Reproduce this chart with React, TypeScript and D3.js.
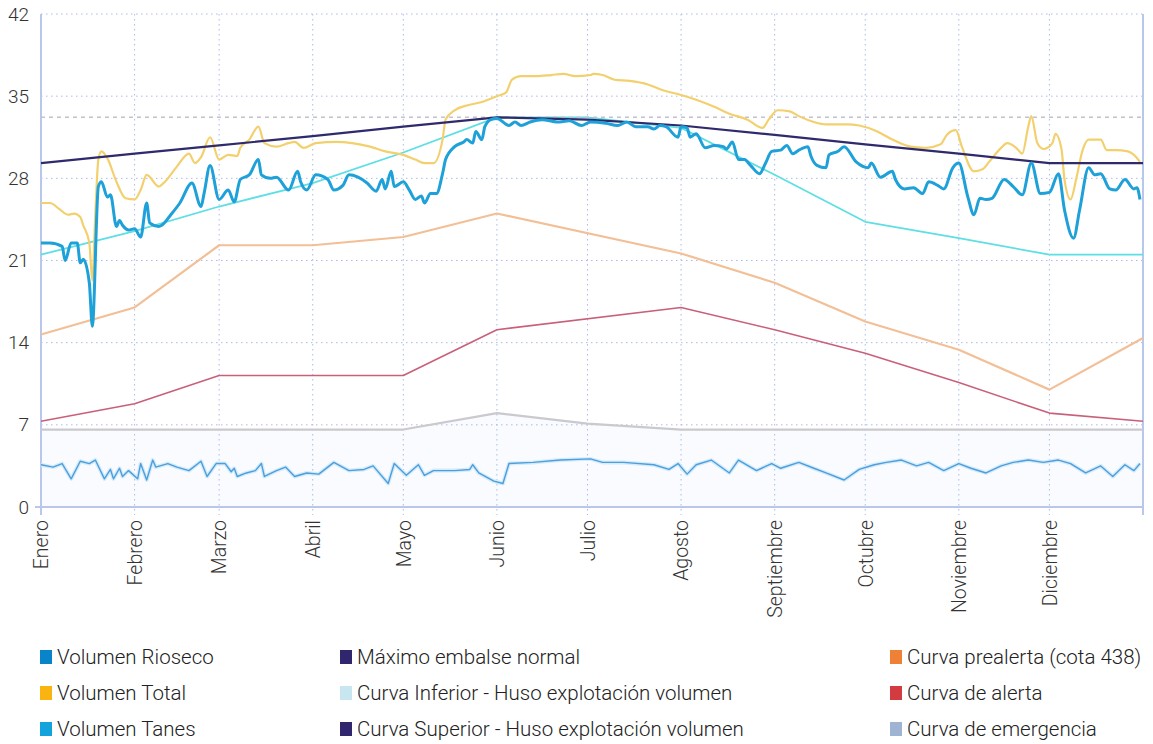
import React, { useEffect, useRef } from "react";
import * as d3 from "d3";

type Pt = [number, number]; // [día del año, hm3]

const meses = ["Enero", "Febrero", "Marzo", "Abril", "Mayo", "Junio", "Julio", "Agosto", "Septiembre", "Octubre", "Noviembre", "Diciembre"];
const yTicks = [0, 7, 14, 21, 28, 35, 42];
const nivelMaximo = 33.2;

const volumenTanes: Pt[] = [
  [0, 22.5], [3, 22.5], [7, 22.2], [8, 21.0], [10, 22.5], [12, 22.5], [13, 20.8], [14, 21.1], [16, 19.1], [17, 15.4],
  [19, 27.3], [20, 27.7], [22, 26.4], [23, 26.6], [25, 23.9], [26, 24.4], [27, 24.0], [29, 23.6], [31, 23.7], [33, 23.0],
  [35, 25.9], [36, 24.2], [39, 23.9], [40, 24.0], [43, 24.9], [46, 25.9], [50, 27.6], [53, 25.6], [54, 26.7], [56, 29.1],
  [59, 26.2], [62, 27.0], [64, 26.0], [66, 27.9], [69, 28.3], [72, 29.6], [73, 28.3], [76, 28.0], [78, 28.1], [82, 27.0],
  [85, 28.6], [86, 27.7], [88, 27.0], [91, 28.3], [95, 27.9], [97, 27.0], [100, 27.4], [102, 28.3], [105, 28.1], [108, 27.6],
  [111, 26.9], [113, 27.9], [114, 27.1], [116, 28.6], [117, 27.3], [120, 27.7], [122, 27.0], [124, 26.2], [126, 26.5], [127, 25.9],
  [129, 26.7], [131, 26.7], [133, 28.4], [134, 29.6], [137, 30.7], [140, 31.1], [141, 31.3], [143, 31.0], [144, 32.0], [146, 31.3],
  [147, 32.4], [149, 33.0], [151, 33.1], [155, 32.5], [157, 32.8], [159, 32.5], [162, 32.8], [166, 33.0], [171, 32.8], [175, 32.9],
  [179, 32.5], [182, 32.8], [187, 32.7], [191, 32.5], [194, 32.8], [197, 32.4], [201, 32.4], [203, 32.2], [205, 32.5], [207, 32.4],
  [211, 31.5], [212, 32.4], [214, 32.3], [215, 31.5], [217, 31.8], [220, 30.6], [223, 30.8], [226, 30.7], [227, 30.5], [229, 31.1],
  [231, 29.6], [233, 29.6], [235, 29.1], [238, 28.4], [240, 29.3], [242, 30.3], [245, 30.4], [247, 30.8], [249, 30.1], [251, 30.4],
  [254, 30.7], [255, 29.9], [257, 29.1], [260, 28.9], [261, 30.0], [264, 30.3], [266, 30.7], [270, 29.4], [274, 28.9], [275, 29.3],
  [278, 28.1], [282, 28.6], [283, 27.9], [286, 27.1], [289, 27.2], [292, 26.7], [294, 27.7], [297, 27.4], [299, 27.1], [302, 28.9],
  [304, 29.3], [307, 26.4], [309, 24.9], [311, 26.3], [313, 26.2], [315, 26.3], [319, 27.9], [322, 27.3], [325, 26.6], [328, 29.3],
  [331, 26.7], [334, 26.8], [337, 28.4], [339, 25.3], [342, 22.9], [344, 25.3], [347, 28.9], [349, 28.3], [351, 28.4], [354, 27.1],
  [356, 27.0], [359, 27.9], [362, 27.1], [363, 27.2], [364, 26.2]
];

const volumenTotal: Pt[] = [
  [0, 25.9], [3, 25.9], [6, 25.4], [9, 24.9], [11, 25.0], [13, 24.7], [14, 24.0], [16, 22.5], [17, 19.3], [18, 25.0],
  [19, 29.6], [20, 30.3], [22, 29.7], [25, 27.7], [28, 26.3], [31, 26.2], [33, 27.0], [35, 28.3], [39, 27.3], [41, 27.7],
  [45, 29.0], [49, 30.1], [51, 29.3], [53, 29.8], [56, 31.5], [59, 29.6], [62, 30.0], [65, 29.9], [66, 30.6], [69, 31.3],
  [72, 32.4], [74, 31.0], [78, 30.7], [82, 31.0], [84, 31.1], [87, 30.6], [91, 31.0], [98, 31.1], [103, 31.0], [109, 30.7],
  [114, 30.3], [120, 30.0], [124, 29.6], [127, 29.3], [130, 29.3], [133, 31.3], [134, 33.0], [137, 33.8], [141, 34.2], [146, 34.5],
  [151, 35.0], [154, 35.3], [156, 36.4], [159, 36.7], [164, 36.7], [169, 36.8], [173, 36.9], [177, 36.7], [182, 36.8], [183, 36.9],
  [186, 36.8], [190, 36.4], [195, 36.3], [201, 36.0], [206, 35.5], [212, 35.1], [217, 34.7], [223, 34.1], [228, 33.5], [234, 33.0],
  [239, 32.3], [241, 33.0], [244, 33.8], [248, 33.7], [251, 33.3], [256, 32.8], [260, 32.6], [267, 32.6], [271, 32.5], [277, 32.0],
  [282, 31.3], [288, 30.7], [293, 30.6], [298, 30.9], [300, 31.7], [303, 32.1], [305, 30.7], [309, 28.6], [312, 28.8], [314, 29.4],
  [318, 30.6], [320, 31.0], [323, 30.6], [325, 30.1], [327, 32.4], [328, 33.3], [330, 31.0], [332, 30.5], [335, 31.0], [336, 31.8],
  [338, 30.5], [339, 27.9], [341, 26.2], [343, 28.1], [345, 30.4], [347, 31.3], [351, 31.3], [353, 30.4], [356, 30.4], [360, 30.3],
  [362, 30.0], [364, 29.4]
];

const volumenRioseco: Pt[] = [
  [0, 3.6], [4, 3.4], [7, 3.7], [10, 2.4], [13, 3.9], [16, 3.7], [18, 4.0], [21, 2.4], [23, 3.2], [24, 2.4],
  [26, 3.3], [27, 2.6], [29, 3.1], [32, 2.4], [33, 3.7], [35, 2.3], [37, 4.0], [38, 3.4], [42, 3.7], [45, 3.4],
  [49, 3.1], [53, 3.9], [55, 2.6], [58, 3.7], [61, 3.7], [63, 3.0], [64, 3.3], [65, 2.6], [68, 2.9], [71, 3.1],
  [73, 3.7], [74, 2.6], [78, 3.1], [81, 3.4], [84, 2.6], [88, 2.9], [92, 2.8], [97, 3.8], [102, 3.1], [107, 3.2],
  [110, 3.5], [115, 2.0], [117, 3.7], [121, 2.7], [125, 3.6], [127, 2.7], [130, 3.1], [137, 3.1], [142, 3.2], [143, 3.6],
  [145, 2.9], [150, 2.2], [153, 2.0], [155, 3.7], [163, 3.8], [172, 4.0], [182, 4.1], [186, 3.8], [193, 3.8], [203, 3.6],
  [208, 3.2], [211, 3.7], [214, 2.8], [217, 3.6], [222, 4.0], [228, 2.9], [231, 4.0], [237, 3.1], [242, 3.7], [245, 3.3],
  [251, 3.8], [256, 3.3], [260, 2.9], [266, 2.3], [271, 3.2], [276, 3.6], [280, 3.8], [285, 4.0], [290, 3.5], [294, 3.8],
  [299, 3.1], [304, 3.7], [308, 3.3], [313, 2.9], [318, 3.5], [322, 3.8], [327, 4.0], [332, 3.8], [337, 4.0], [341, 3.7],
  [346, 2.9], [351, 3.5], [355, 2.6], [359, 3.6], [362, 3.1], [364, 3.7]
];

const maximoEmbalse: Pt[] = [
  [0, 29.3], [31, 30.1], [59, 30.8], [90, 31.6], [120, 32.4], [151, 33.2], [181, 33.0], [212, 32.5], [243, 31.7], [273, 30.9], [304, 30.1], [334, 29.3], [365, 29.3]
];
const curvaInferior: Pt[] = [
  [0, 21.5], [31, 23.5], [59, 25.6], [90, 27.6], [120, 30.2], [151, 33.2], [181, 33.2], [212, 32.3], [243, 28.3], [273, 24.3], [304, 22.9], [334, 21.5], [365, 21.5]
];
const curvaPrealerta: Pt[] = [
  [0, 14.7], [31, 17.0], [59, 22.3], [90, 22.3], [120, 23.0], [151, 25.0], [212, 21.6], [243, 19.1], [273, 15.8], [304, 13.4], [334, 10.0], [365, 14.4]
];
const curvaAlerta: Pt[] = [
  [0, 7.3], [31, 8.8], [59, 11.2], [90, 11.2], [120, 11.2], [151, 15.1], [212, 17.0], [243, 15.1], [273, 13.1], [304, 10.6], [334, 8.0], [365, 7.3]
];
const curvaEmergencia: Pt[] = [
  [0, 6.6], [31, 6.6], [59, 6.6], [90, 6.6], [120, 6.6], [151, 8.0], [181, 7.1], [212, 6.6], [243, 6.6], [273, 6.6], [304, 6.6], [334, 6.6], [365, 6.6]
];

const legendLabels = [
  "Volumen Rioseco", "Volumen Total", "Volumen Tanes",
  "Máximo embalse normal", "Curva Inferior - Huso explotación volumen", "Curva Superior - Huso explotación volumen",
  "Curva prealerta (cota 438)", "Curva de alerta", "Curva de emergencia"
];
const legendColors = ["#0a84c8", "#f9b411", "#12a2dc", "#30266e", "#c8e6ef", "#30266e", "#ef8137", "#d23b3f", "#9fb3d2"];

const FONT = "Roboto, 'Liberation Sans', sans-serif";

function App() {
  const ref = useRef<SVGSVGElement>(null);

  useEffect(() => {
    const svg = d3.select(ref.current);
    svg.selectAll("*").remove();

    const left = 41, right = 1143, top = 14, bottom = 507;
    const t0 = new Date(2021, 0, 1);
    const x = d3.scaleTime().domain([t0, new Date(2022, 0, 1)]).range([left, right]);
    const y = d3.scaleLinear().domain([0, 42]).range([bottom, top]);
    const day = (d: number) => d3.timeDay.offset(t0, d);
    const monthStarts = d3.timeMonth.range(t0, new Date(2022, 0, 1));

    const line = d3.line<Pt>().x(d => x(day(d[0]))).y(d => y(d[1]));
    const smooth = d3.line<Pt>().x(d => x(day(d[0]))).y(d => y(d[1])).curve(d3.curveMonotoneX);

    // franja muy clara bajo la curva de emergencia
    svg.append("path")
      .attr("d", d3.area<Pt>().x(d => x(day(d[0]))).y0(y(0)).y1(d => y(d[1]))(curvaEmergencia) as string)
      .attr("fill", "#f9fbff");

    // rejilla
    const grid = svg.append("g");
    grid.selectAll(".hg").data(yTicks.filter(v => v > 0)).join("line")
      .attr("x1", left).attr("x2", right)
      .attr("y1", d => y(d)).attr("y2", d => y(d))
      .attr("stroke", "#a9bbea").attr("stroke-width", 1).attr("stroke-dasharray", "1.5,3.5");
    grid.selectAll(".vg").data(monthStarts.slice(1)).join("line")
      .attr("x1", d => x(d)).attr("x2", d => x(d))
      .attr("y1", top).attr("y2", bottom + 8)
      .attr("stroke", "#a9bbea").attr("stroke-width", 1).attr("stroke-dasharray", "1.5,3.5");

    // ejes
    svg.append("line").attr("x1", left).attr("x2", left).attr("y1", top).attr("y2", bottom + 8)
      .attr("stroke", "#b9c7ec").attr("stroke-width", 2);
    svg.append("line").attr("x1", right).attr("x2", right).attr("y1", top).attr("y2", bottom + 8)
      .attr("stroke", "#b9c7ec").attr("stroke-width", 2);
    svg.append("line").attr("x1", left - 6).attr("x2", right).attr("y1", bottom).attr("y2", bottom)
      .attr("stroke", "#b9c7ec").attr("stroke-width", 2);

    const yAxis = d3.axisLeft(y).tickValues(yTicks).tickSize(0).tickPadding(12);
    const gy = svg.append("g").attr("transform", `translate(${left},0)`).call(yAxis);
    gy.select(".domain").remove();
    gy.selectAll("text").attr("font-family", FONT).attr("font-size", 19).attr("font-weight", 300).attr("fill", "#333");

    const xAxis = d3.axisBottom(x).tickValues(monthStarts).tickSize(0).tickFormat((d, i) => meses[i]);
    const gx = svg.append("g").attr("transform", `translate(0,${bottom})`).call(xAxis);
    gx.select(".domain").remove();
    gx.selectAll("text")
      .attr("font-family", FONT).attr("font-size", 19.5).attr("font-weight", 300).attr("fill", "#333")
      .attr("text-anchor", "end").attr("transform", "translate(0,13) rotate(-90)")
      .attr("x", 0).attr("y", 0).attr("dy", "0.35em");

    // curvas de referencia
    const curva = (data: Pt[], color: string, w: number) =>
      svg.append("path").attr("d", line(data) as string).attr("fill", "none")
        .attr("stroke", color).attr("stroke-width", w).attr("stroke-linejoin", "round");

    curva(curvaEmergencia, "#c9c9ce", 2.2);
    curva(curvaAlerta, "#c96079", 1.6);
    curva(curvaPrealerta, "#f2bf96", 2.2);
    curva(curvaInferior, "#5ddfe4", 1.8);

    svg.append("line").attr("x1", left).attr("x2", right)
      .attr("y1", y(nivelMaximo)).attr("y2", y(nivelMaximo))
      .attr("stroke", "#c4c2d0").attr("stroke-width", 1.6).attr("stroke-dasharray", "4,4");

    // volúmenes
    svg.append("path").attr("d", line(volumenRioseco) as string).attr("fill", "none")
      .attr("stroke", "#d6ebfa").attr("stroke-width", 4).attr("stroke-linejoin", "round");
    svg.append("path").attr("d", line(volumenRioseco) as string).attr("fill", "none")
      .attr("stroke", "#4a9fdc").attr("stroke-width", 1.4).attr("stroke-linejoin", "round");

    svg.append("path").attr("d", smooth(volumenTotal) as string).attr("fill", "none")
      .attr("stroke", "#f3d06e").attr("stroke-width", 2.2).attr("stroke-linejoin", "round");

    curva(maximoEmbalse, "#2e2a6c", 2.2);

    svg.append("path").attr("d", smooth(volumenTanes) as string).attr("fill", "none")
      .attr("stroke", "#1ea0d8").attr("stroke-width", 3).attr("stroke-linejoin", "round");

    // leyenda
    const colX = [40, 340, 890];
    const rowY = [657, 693, 729];
    const lg = svg.append("g");
    legendLabels.forEach((label, i) => {
      const cx = colX[Math.floor(i / 3)];
      const cy = rowY[i % 3];
      lg.append("rect").attr("x", cx).attr("y", cy - 7).attr("width", 12).attr("height", 14).attr("fill", legendColors[i]);
      lg.append("text").attr("x", cx + 17).attr("y", cy).attr("dy", "0.36em")
        .attr("font-family", FONT).attr("font-size", 20.5).attr("font-weight", 300).attr("fill", "#222")
        .text(label);
    });
  }, []);

  return <svg ref={ref} width={1153} height={744} style={{ position: "absolute", left: 0, top: 0, background: "#fff" }} />;
}

export default App;
